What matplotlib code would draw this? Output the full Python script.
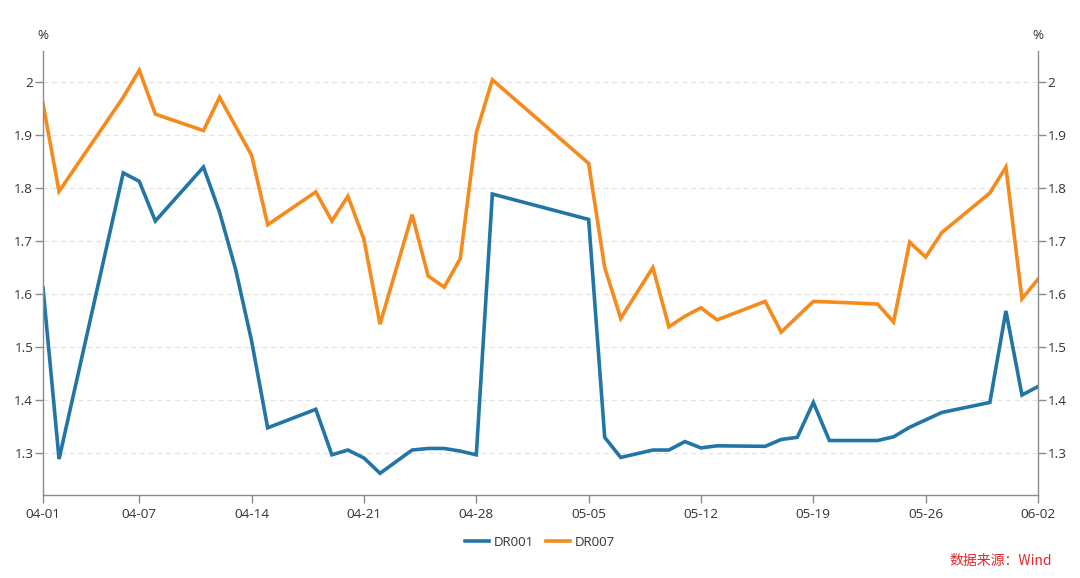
import pandas as pd
import matplotlib
matplotlib.use('Agg')
import matplotlib.pyplot as plt
import matplotlib.dates as mdates

plt.rcParams['font.family'] = ['Open Sans', 'Noto Sans CJK SC', 'DejaVu Sans']

# 日期（月-日）
dates = ['04-01', '04-02', '04-06', '04-07', '04-08', '04-11', '04-12', '04-13', '04-14', '04-15',
         '04-18', '04-19', '04-20', '04-21', '04-22', '04-24', '04-25', '04-26', '04-27', '04-28',
         '04-29', '05-05', '05-06', '05-07', '05-09', '05-10', '05-11', '05-12', '05-13', '05-16',
         '05-17', '05-18', '05-19', '05-20', '05-23', '05-24', '05-25', '05-26', '05-27', '05-30',
         '05-31', '06-01', '06-02']

dr001 = [1.612, 1.288, 1.829, 1.813, 1.738, 1.840, 1.755, 1.647, 1.511, 1.347,
         1.382, 1.296, 1.305, 1.290, 1.261, 1.305, 1.308, 1.308, 1.303, 1.296,
         1.789, 1.741, 1.329, 1.291, 1.305, 1.305, 1.321, 1.309, 1.313, 1.312,
         1.325, 1.329, 1.395, 1.323, 1.323, 1.330, 1.348, 1.362, 1.376, 1.395,
         1.568, 1.409, 1.425]

dr007 = [1.960, 1.794, 1.972, 2.023, 1.940, 1.909, 1.972, 1.917, 1.862, 1.731,
         1.793, 1.738, 1.785, 1.703, 1.543, 1.750, 1.634, 1.613, 1.667, 1.905,
         2.005, 1.847, 1.650, 1.554, 1.650, 1.538, 1.558, 1.574, 1.551, 1.586,
         1.528, 1.557, 1.586, 1.585, 1.581, 1.547, 1.698, 1.670, 1.716, 1.791,
         1.840, 1.591, 1.628]

tick_dates = ['04-01', '04-07', '04-14', '04-21', '04-28', '05-05', '05-12', '05-19', '05-26', '06-02']
y_ticks = [1.3, 1.4, 1.5, 1.6, 1.7, 1.8, 1.9, 2.0]
y_labels = ['1.3', '1.4', '1.5', '1.6', '1.7', '1.8', '1.9', '2']

x = pd.to_datetime(['2024-' + d for d in dates])
xt = pd.to_datetime(['2024-' + d for d in tick_dates])

fig = plt.figure(figsize=(10.8, 5.78), dpi=100)
ax = fig.add_axes([43 / 1080, 1 - 495 / 578, 995 / 1080, (495 - 50.7) / 578])

ax.plot(x, dr001, color='#2276a5', lw=2.6, label='DR001', solid_joinstyle='miter')
ax.plot(x, dr007, color='#f78a1d', lw=2.6, label='DR007', solid_joinstyle='miter')

ax.set_xlim(xt[0], xt[-1])
ax.set_ylim(1.22, 2.06)
ax.set_xticks(xt)
ax.xaxis.set_major_formatter(mdates.DateFormatter('%m-%d'))
ax.set_yticks(y_ticks)
ax.set_yticklabels(y_labels)

ax.grid(axis='y', color='#e3e3e3', linestyle=(0, (4, 3)), lw=0.9)
ax.set_axisbelow(True)

for s in ['left', 'right', 'bottom']:
    ax.spines[s].set_color('#8c8c8c')
    ax.spines[s].set_linewidth(1)
ax.spines['top'].set_visible(False)

ax.tick_params(axis='both', colors='#8c8c8c', labelcolor='#333333', labelsize=9.7, length=6, width=1)
ax.tick_params(axis='y', pad=1, left=True, right=True, labelleft=True, labelright=True)
ax.tick_params(axis='x', pad=3)

ax.text(0, 1.02, '%', transform=ax.transAxes, ha='center', va='bottom', fontsize=9.7, color='#333333')
ax.text(1, 1.02, '%', transform=ax.transAxes, ha='center', va='bottom', fontsize=9.7, color='#333333')

fig.legend(loc='center', bbox_to_anchor=(540 / 1080, 1 - 542 / 578), ncol=2, frameon=False,
           fontsize=9.5, handlelength=1.8, handletextpad=0.4, columnspacing=0.9,
           labelcolor='#333333')

fig.text(1052 / 1080, 1 - 561 / 578, '数据来源：Wind', ha='right', va='center', fontsize=10,
         color='#e5262b', family=['Noto Sans CJK SC', 'DejaVu Sans'])

plt.savefig('out.png', dpi=100)
